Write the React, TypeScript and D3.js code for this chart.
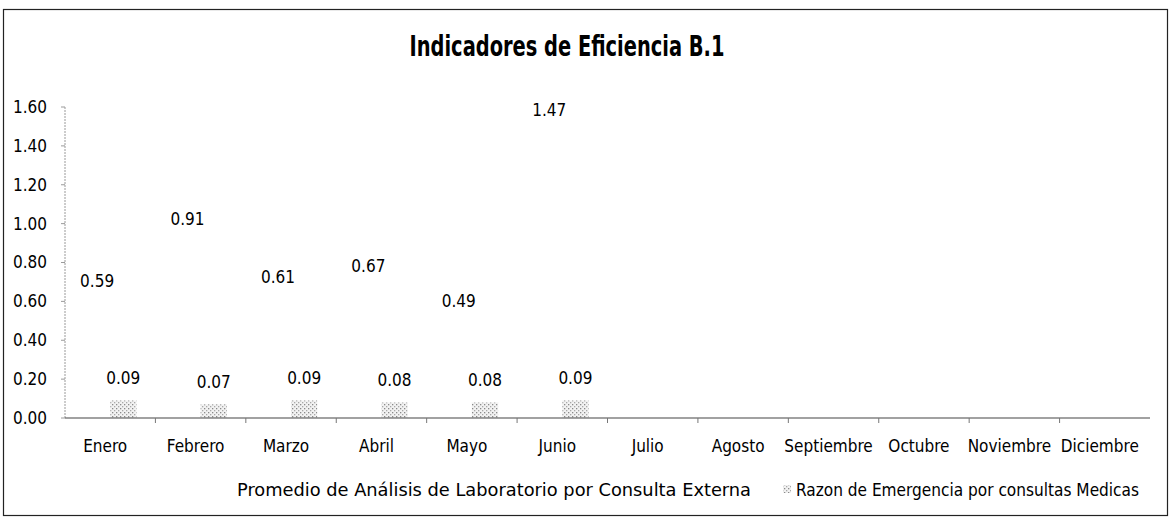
import React from "react";
import * as d3 from "d3";

const months = ["Enero", "Febrero", "Marzo", "Abril", "Mayo", "Junio", "Julio", "Agosto", "Septiembre", "Octubre", "Noviembre", "Diciembre"];
const seriesNames = ["Promedio de Análisis de Laboratorio por Consulta Externa", "Razon de Emergencia por consultas Medicas"];
const promedioLab: (number | null)[] = [0.59, 0.91, 0.61, 0.67, 0.49, 1.47, null, null, null, null, null, null];
const razonEmergencia: (number | null)[] = [0.09, 0.07, 0.09, 0.08, 0.08, 0.09, null, null, null, null, null, null];
const yTicks = [0, 0.2, 0.4, 0.6, 0.8, 1.0, 1.2, 1.4, 1.6];
const title = "Indicadores de Eficiencia B.1";

const W = 1172;
const H = 521;
const FONT = "'Liberation Sans Narrow', 'Arial Narrow', 'DejaVu Sans Condensed', sans-serif";

export default function App() {
  const left = 65, right = 1150, top = 107, bottom = 418;
  const x0 = d3.scaleBand<string>().domain(months).range([left, right]).padding(0);
  const bw = x0.bandwidth();
  const x1 = d3.scaleBand<string>().domain(seriesNames).range([bw * 0.21, bw * 0.79]).padding(0);
  const y = d3.scaleLinear().domain([0, 1.6]).range([bottom, top]);
  const data = [promedioLab, razonEmergencia];

  return (
    <svg width={W} height={H} style={{ display: "block", position: "absolute", left: 0, top: 0, background: "#fff" }} fontFamily={FONT}>
      <defs>
        <pattern id="dots" width="4" height="4" patternUnits="userSpaceOnUse">
          <rect width="4" height="4" fill="#f2f2f2" />
          <rect x="0" y="0" width="1.3" height="1.3" fill="#8a8a8a" />
          <rect x="2" y="2" width="1.3" height="1.3" fill="#a8a8a8" />
        </pattern>
      </defs>
      <rect x={0} y={0} width={W} height={H} fill="#fff" />
      <rect x={3.5} y={9.5} width={1164} height={506} fill="none" stroke="#222" strokeWidth={1.2} />
      <text x={567} y={56} textAnchor="middle" fontSize={29} fontWeight="bold" fill="#000" textLength={315} lengthAdjust="spacingAndGlyphs">{title}</text>

      {/* y axis */}
      <line x1={left} x2={left} y1={top} y2={bottom} stroke="#9a9a9a" strokeWidth={1} strokeDasharray="2,1" />
      {yTicks.map((t) => (
        <g key={t}>
          <line x1={left - 4} x2={left} y1={y(t)} y2={y(t)} stroke="#9a9a9a" />
          <text x={47} y={y(t)} dy="0.35em" textAnchor="end" fontSize={17} fill="#000">{t.toFixed(2)}</text>
        </g>
      ))}

      {/* bars */}
      {data.map((vals, si) =>
        vals.map((v, i) =>
          v == null ? null : (
            <rect
              key={`b${si}-${i}`}
              x={x0(months[i])! + x1(seriesNames[si])!}
              y={y(v)}
              width={x1.bandwidth()}
              height={bottom - y(v)}
              fill={si === 0 ? "#fff" : "url(#dots)"}
            />
          )
        )
      )}

      {/* x axis */}
      <line x1={left} x2={right} y1={bottom} y2={bottom} stroke="#444" strokeWidth={1.2} />
      {months.map((m, i) => (
        <g key={m}>
          {i > 0 && <line x1={x0(m)!} x2={x0(m)!} y1={bottom} y2={bottom + 5} stroke="#777" />}
          <text x={x0(m)! + bw / 2 - 5} y={bottom + 28} dy="0.35em" textAnchor="middle" fontSize={17} fill="#000">{m}</text>
        </g>
      ))}

      {/* labels */}
      {data.map((vals, si) =>
        vals.map((v, i) =>
          v == null ? null : (
            <text
              key={`l${si}-${i}`}
              x={x0(months[i])! + x1(seriesNames[si])! + x1.bandwidth() / 2}
              y={y(v) - 22}
              dy="0.35em"
              textAnchor="middle"
              fontSize={17}
              fill="#000"
            >
              {v.toFixed(2)}
            </text>
          )
        )
      )}

      {/* legend */}
      <rect x={226} y={485} width={8} height={8} fill="#fff" />
      <text x={237} y={490} dy="0.35em" fontSize={17} fill="#000" textLength={514} lengthAdjust="spacingAndGlyphs">{seriesNames[0]}</text>
      <rect x={783} y={485} width={8} height={8} fill="url(#dots)" />
      <text x={796} y={490} dy="0.35em" fontSize={17} fill="#000" textLength={343} lengthAdjust="spacingAndGlyphs">{seriesNames[1]}</text>
    </svg>
  );
}
